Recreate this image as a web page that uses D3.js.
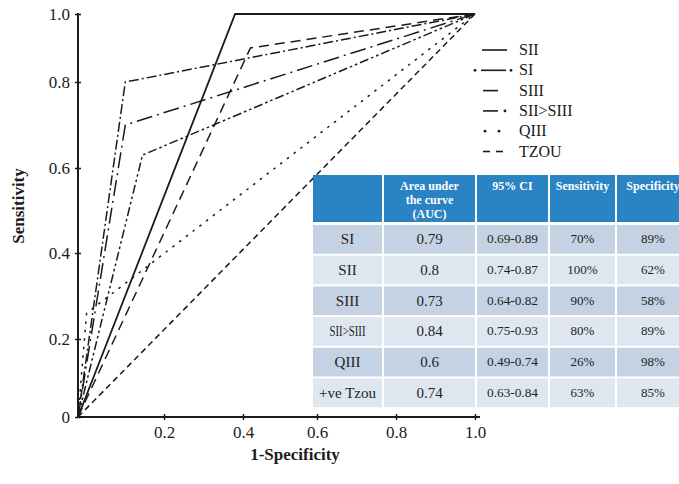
<!DOCTYPE html>
<html>
<head>
<meta charset="utf-8">
<script src="https://cdn.jsdelivr.net/npm/d3@7"></script>
<style>
  html, body { margin: 0; padding: 0; background: #fff; }
  svg { display: block; font-family: "Liberation Serif", "Times New Roman", serif; }
</style>
</head>
<body>
<svg id="chart" width="679" height="484"></svg>
<script>
// Axis ticks
const tickValues = [0, 0.2, 0.4, 0.6, 0.8, 1.0];
const xTickValues = [0.2, 0.4, 0.6, 0.8, 1.0];
const tickLabels = ["0", "0.2", "0.4", "0.6", "0.8", "1.0"];

// Predictors summarised in the table (sensitivity / specificity in %)
const rowNames = ["SI", "SII", "SIII", "SII>SIII", "QIII", "+ve Tzou"];
const aucValues = ["0.79", "0.8", "0.73", "0.84", "0.6", "0.74"];
const ciValues = ["0.69-0.89", "0.74-0.87", "0.64-0.82", "0.75-0.93", "0.49-0.74", "0.63-0.84"];
const sensitivity = [70, 100, 90, 80, 26, 63];
const specificity = [89, 62, 58, 89, 98, 85];
const tableHeaders = [[""], ["Area under", "the curve", "(AUC)"], ["95% CI"], ["Sensitivity"], ["Specificity"]];

// Legend entries
const legendNames = ["SII", "SI", "SIII", "SII>SIII", "QIII", "TZOU"];

const svg = d3.select("#chart");
const ink = "#1b1b1b";

// Hand-drawn axes with uneven tick spacing: piecewise linear scales
const x = d3.scaleLinear().domain(tickValues).range([78, 164, 243, 317, 396, 475]);
const y = d3.scaleLinear().domain(tickValues).range([417, 339, 253, 168, 82, 14]);

// Dash patterns per curve
const dashes = {
  "SI": "16,5,2,5",
  "SII": null,
  "SIII": "10,6",
  "SII>SIII": "10,3,2,3",
  "QIII": "2.5,6",
  "+ve Tzou": "9,3,2.5,3,2.5,3"
};

const line = d3.line().x(d => x(d[0])).y(d => y(d[1]));

// Chance diagonal
svg.append("path")
  .attr("d", line([[0, 0], [1, 1]]))
  .attr("fill", "none").attr("stroke", ink).attr("stroke-width", 1.5)
  .attr("stroke-dasharray", "6,4");

// ROC curves: origin -> operating point -> (1,1)
rowNames.forEach((name, i) => {
  const pts = [[0, 0], [1 - specificity[i] / 100, sensitivity[i] / 100], [1, 1]];
  svg.append("path")
    .attr("d", line(pts))
    .attr("fill", "none")
    .attr("stroke", ink)
    .attr("stroke-width", name === "SII" ? 1.8 : 1.5)
    .attr("stroke-linejoin", "miter")
    .attr("stroke-dasharray", dashes[name]);
});

// Axes
const fontTick = "17px";
const gx = svg.append("g").attr("transform", `translate(0,${y(0)})`)
  .call(d3.axisBottom(x).tickValues(xTickValues)
    .tickFormat(d => tickLabels[tickValues.indexOf(d)])
    .tickSize(3).tickSizeOuter(0).tickPadding(6));
// axis line runs a little past the last tick
gx.select(".domain").attr("d", `M${x(0)},0H${x(1) + 5}`).attr("stroke", ink).attr("stroke-width", 2);
gx.selectAll(".tick line").attr("y1", -3).attr("y2", 3).attr("stroke", ink).attr("stroke-width", 1.5);
gx.selectAll(".tick text").attr("font-size", fontTick).attr("font-family", "Liberation Serif, serif").attr("fill", ink);

const gy = svg.append("g").attr("transform", `translate(${x(0)},0)`)
  .call(d3.axisLeft(y).tickValues(tickValues)
    .tickFormat((d, i) => tickLabels[i])
    .tickSize(3).tickSizeOuter(0).tickPadding(5));
gy.select(".domain").attr("d", `M0,${y(0)}V${y(1) - 1}`).attr("stroke", ink).attr("stroke-width", 2);
gy.selectAll(".tick line").attr("x1", -3).attr("x2", 3).attr("stroke", ink).attr("stroke-width", 1.5);
gy.selectAll(".tick text").attr("font-size", fontTick).attr("font-family", "Liberation Serif, serif").attr("fill", ink);

// Axis titles
svg.append("text")
  .attr("x", 295).attr("y", 460)
  .attr("text-anchor", "middle")
  .attr("font-size", "17px").attr("font-weight", "bold").attr("fill", ink)
  .text("1-Specificity");
svg.append("text")
  .attr("transform", "translate(24,206) rotate(-90)")
  .attr("text-anchor", "middle")
  .attr("font-size", "17px").attr("font-weight", "bold").attr("fill", ink)
  .text("Sensitivity");

// Legend
const legend = svg.append("g");
legendNames.forEach((name, i) => {
  const cy = 50 + i * 20.3;
  const g = legend.append("g");
  const seg = (x1, x2) => g.append("line").attr("x1", x1).attr("x2", x2)
    .attr("y1", cy).attr("y2", cy).attr("stroke", ink).attr("stroke-width", 1.6);
  const dot = cx => g.append("circle").attr("cx", cx).attr("cy", cy).attr("r", 1.4).attr("fill", ink);
  if (name === "SII") seg(482, 507);
  if (name === "SI") { dot(475); seg(481, 506); dot(511); }
  if (name === "SIII") seg(483, 498);
  if (name === "SII>SIII") { seg(483, 498); dot(505); }
  if (name === "QIII") { dot(485); dot(499); }
  if (name === "TZOU") { seg(483, 490); seg(496, 503); }
  g.append("text").attr("x", 519).attr("y", cy + 5)
    .attr("font-size", "16px").attr("fill", ink).text(name);
});

// Summary table
const colEdges = [312, 383, 476, 549, 616, 690];
const headerTop = 175, headerBottom = 223;
const rowTop = 224, rowH = 30.7;
const gap = 1;
const table = svg.append("g");

tableHeaders.forEach((lines, c) => {
  table.append("rect")
    .attr("x", colEdges[c] + gap).attr("y", headerTop)
    .attr("width", colEdges[c + 1] - colEdges[c] - 2 * gap)
    .attr("height", headerBottom - headerTop - gap)
    .attr("fill", "#2a83c3");
  const cx = (colEdges[c] + colEdges[c + 1]) / 2;
  lines.forEach((t, k) => {
    table.append("text").attr("x", cx).attr("y", 190 + k * 14)
      .attr("text-anchor", "middle").attr("font-size", "12px")
      .attr("font-weight", "bold").attr("fill", "#fff").text(t);
  });
});

rowNames.forEach((name, r) => {
  const top = rowTop + r * rowH;
  const fill = r % 2 === 0 ? "#c4d2e3" : "#dee6ef";
  const cells = [name, aucValues[r], ciValues[r], sensitivity[r] + "%", specificity[r] + "%"];
  const sizes = ["15px", "15px", "13px", "13px", "13px"];
  cells.forEach((t, c) => {
    table.append("rect")
      .attr("x", colEdges[c] + gap).attr("y", top + gap)
      .attr("width", colEdges[c + 1] - colEdges[c] - 2 * gap)
      .attr("height", rowH - 2 * gap)
      .attr("fill", fill);
    const txt = table.append("text")
      .attr("x", (colEdges[c] + colEdges[c + 1]) / 2)
      .attr("y", top + rowH / 2 + (c < 2 ? 5 : 4))
      .attr("text-anchor", "middle").attr("font-size", sizes[c])
      .attr("fill", "#1e1e1e").text(t);
    if (c === 0 && t === "SII>SIII") txt.attr("textLength", 36).attr("lengthAdjust", "spacingAndGlyphs");
    if (c === 2) txt.attr("textLength", 51).attr("lengthAdjust", "spacingAndGlyphs");
  });
});
</script>
</body>
</html>
